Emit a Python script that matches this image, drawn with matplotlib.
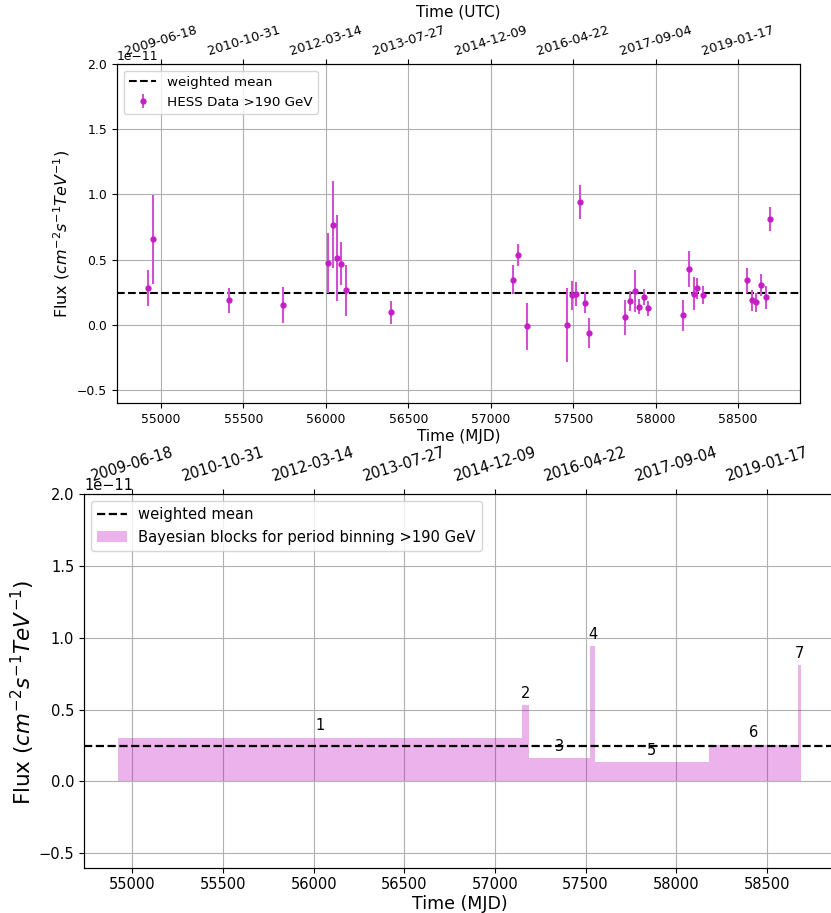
import matplotlib
matplotlib.use("Agg")
import matplotlib.pyplot as plt
import numpy as np

# ---- data (flux in units of 1e-11 cm^-2 s^-1 TeV^-1) ----
mjd = [54919, 54950, 55411, 55740, 56011, 56042, 56068, 56094, 56124, 56396,
       57134, 57166, 57221, 57464, 57490, 57518, 57542, 57571, 57597,
       57817, 57846, 57874, 57900, 57927, 57957,
       58169, 58200, 58232, 58252, 58285,
       58552, 58584, 58610, 58639, 58669, 58691]
flux = [0.283, 0.654, 0.187, 0.153, 0.470, 0.769, 0.513, 0.467, 0.263, 0.095,
        0.345, 0.534, -0.010, 0.000, 0.225, 0.235, 0.942, 0.168, -0.064,
        0.057, 0.181, 0.258, 0.138, 0.212, 0.125,
        0.072, 0.427, 0.238, 0.281, 0.227,
        0.340, 0.187, 0.171, 0.304, 0.212, 0.809]
flux_err = [0.14, 0.34, 0.095, 0.14, 0.23, 0.33, 0.33, 0.165, 0.195, 0.09,
            0.11, 0.085, 0.18, 0.285, 0.11, 0.09, 0.127, 0.08, 0.118,
            0.135, 0.077, 0.163, 0.058, 0.062, 0.055,
            0.117, 0.137, 0.125, 0.08, 0.067,
            0.095, 0.078, 0.075, 0.082, 0.088, 0.092]
weighted_mean = 0.244

block_edges = [54919, 57148, 57189, 57525, 57553, 58179, 58673, 58691]
block_values = [0.305, 0.530, 0.160, 0.940, 0.135, 0.256, 0.810]
block_labels = ["1", "2", "3", "4", "5", "6", "7"]

mjd_ticks = [55000, 55500, 56000, 56500, 57000, 57500, 58000, 58500]
utc_labels = ["2009-06-18", "2010-10-31", "2012-03-14", "2013-07-27",
              "2014-12-09", "2016-04-22", "2017-09-04", "2019-01-17"]

xlim = (54733, 58876)
ylim = (-0.6, 2.0)
scale = 1e-11

W, H = 831, 913
fig = plt.figure(figsize=(W / 100, H / 100), dpi=100)

ylabel = r"Flux ($cm^{-2}s^{-1}TeV^{-1}$)"
mag = "#c41ec4"
emag = "#d052d0"

# ---------------- top panel ----------------
ax1 = fig.add_axes([117 / W, 1 - 403 / H, (800 - 117) / W, (403 - 64) / H])
ax1.axhline(weighted_mean * scale, color="k", ls="--", lw=1.5, label="weighted mean", zorder=3)
ax1.errorbar(np.array(mjd), np.array(flux) * scale, yerr=np.array(flux_err) * scale,
             fmt="o", color=mag, ecolor=emag, elinewidth=1.5, markersize=3.5,
             label="HESS Data >190 GeV", zorder=4)
ax1.set_xlim(*xlim)
ax1.set_ylim(ylim[0] * scale, ylim[1] * scale)
ax1.set_xticks(mjd_ticks)
ax1.set_yticks(np.array([-0.5, 0.0, 0.5, 1.0, 1.5, 2.0]) * scale)
ax1.grid(True, color="#b0b0b0", lw=0.8)
ax1.tick_params(labelsize=8.9)
ax1.yaxis.get_offset_text().set_fontsize(8.9)
ax1.set_xlabel("Time (MJD)", fontsize=11, labelpad=2)
ax1.set_ylabel(ylabel, fontsize=11.5)
ax1.legend(loc="upper left", fontsize=9.7)

ax1t = ax1.twiny()
ax1t.set_xlim(*xlim)
ax1t.set_xticks(mjd_ticks)
ax1t.set_xticklabels(utc_labels, rotation=17, fontsize=9.3)
ax1t.tick_params(axis="x", pad=1.0)
ax1t.set_xlabel("Time (UTC)", fontsize=11, labelpad=5)

# ---------------- bottom panel ----------------
ax2 = fig.add_axes([84 / W, 1 - 867.7 / H, (835 - 84) / W, (867.7 - 494) / H])
ax2.axhline(weighted_mean * scale, color="k", ls="--", lw=1.6, label="weighted mean", zorder=3)
ax2.stairs(np.array(block_values) * scale, block_edges, fill=True, color="m", alpha=0.3,
           lw=0, label="Bayesian blocks for period binning >190 GeV", zorder=2)
for i, lab in enumerate(block_labels):
    xc = 0.5 * (block_edges[i] + block_edges[i + 1])
    ax2.text(xc, (block_values[i] + 0.05) * scale, lab, ha="center", va="baseline",
             fontsize=10.5)
ax2.set_xlim(*xlim)
ax2.set_ylim(ylim[0] * scale, ylim[1] * scale)
ax2.set_xticks(mjd_ticks)
ax2.set_yticks(np.array([-0.5, 0.0, 0.5, 1.0, 1.5, 2.0]) * scale)
ax2.grid(True, color="#b0b0b0", lw=0.8)
ax2.tick_params(labelsize=10.5)
ax2.yaxis.get_offset_text().set_fontsize(10.5)
ax2.set_xlabel("Time (MJD)", fontsize=12.5, labelpad=2)
ax2.set_ylabel(ylabel, fontsize=15.5)
ax2.yaxis.set_label_coords(-0.062, 0.47)
ax2.legend(loc="upper left", fontsize=10.6)

ax2t = ax2.twiny()
ax2t.set_xlim(*xlim)
ax2t.set_xticks(mjd_ticks)
ax2t.set_xticklabels(utc_labels, rotation=17, fontsize=10.5)

fig.savefig("out.png", dpi=100)
